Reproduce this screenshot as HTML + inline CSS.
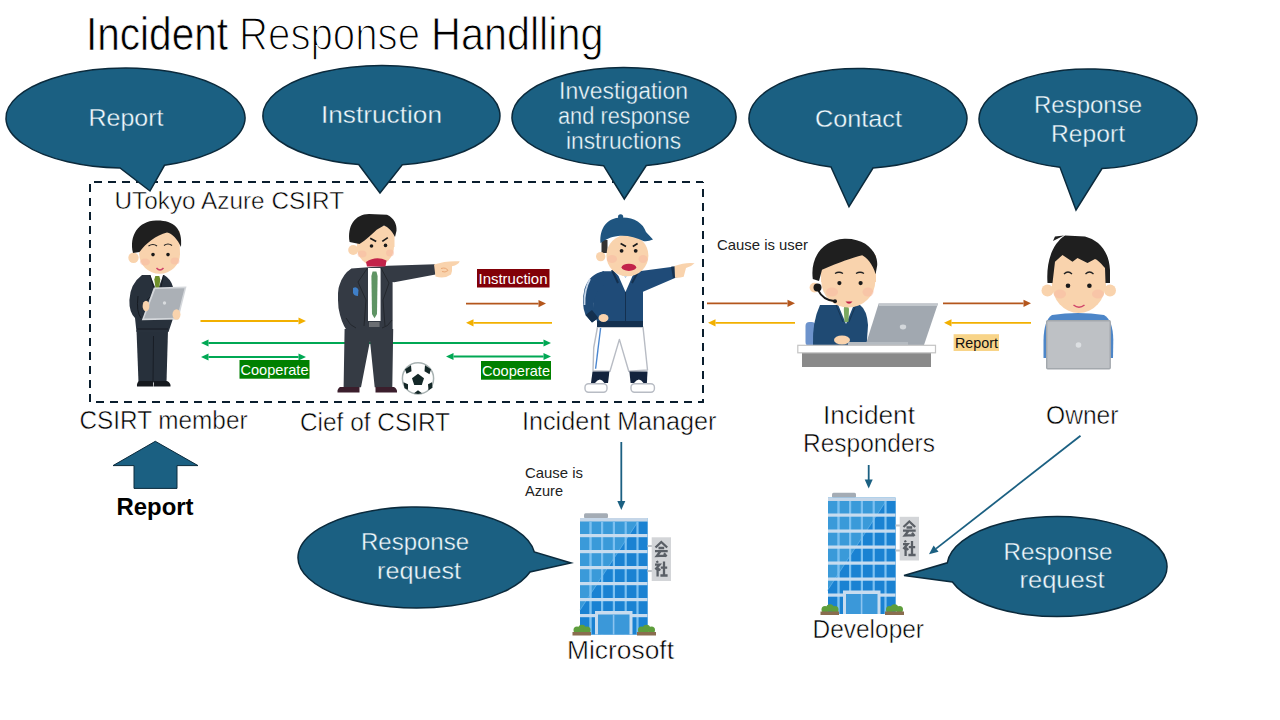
<!DOCTYPE html>
<html><head><meta charset="utf-8"><style>
html,body{margin:0;padding:0;background:#fff;width:1280px;height:720px;overflow:hidden}
svg{display:block}
text{font-family:"Liberation Sans", sans-serif}
</style></head><body>
<svg width="1280" height="720" viewBox="0 0 1280 720" font-family='"Liberation Sans", sans-serif'>
<rect width="1280" height="720" fill="#fff"/>
<text x="86" y="49.6" font-size="46.5" fill="#000" font-weight="normal" text-anchor="start" textLength="142" lengthAdjust="spacingAndGlyphs" stroke="#fff" stroke-width="0.7">Incident</text><text x="239" y="49.6" font-size="46.5" fill="#000" font-weight="normal" text-anchor="start" textLength="181" lengthAdjust="spacingAndGlyphs" stroke="#fff" stroke-width="1.5">Response</text><text x="431" y="49.6" font-size="46.5" fill="#000" font-weight="normal" text-anchor="start" textLength="172.5" lengthAdjust="spacingAndGlyphs" stroke="#fff" stroke-width="0.9">Handlling</text>
<g stroke="#0a1e2e" stroke-width="2" stroke-dasharray="8 6" fill="none"><line x1="90" y1="182" x2="703" y2="182" stroke-dashoffset="10"/><line x1="703" y1="182" x2="703" y2="402" stroke-dashoffset="7"/><line x1="90" y1="402" x2="704" y2="402" stroke-dashoffset="8"/><line x1="90" y1="182" x2="90" y2="402" stroke-dashoffset="12"/></g>
<path d="M164.50,165.26 A119.5,50 0 1 0 120.00,167.95 L150,191 Z" fill="#1b6082" stroke="#0b2a3c" stroke-width="1.5"/><path d="M402.30,164.72 A118.5,50 0 1 0 358.70,164.57 L380,193 Z" fill="#1b6082" stroke="#0b2a3c" stroke-width="1.5"/><path d="M646.30,165.51 A112,49.5 0 1 0 603.60,165.67 L624.3,199 Z" fill="#1b6082" stroke="#0b2a3c" stroke-width="1.5"/><path d="M873.00,168.02 A109,50 0 1 0 831.00,166.94 L849,206.7 Z" fill="#1b6082" stroke="#0b2a3c" stroke-width="1.5"/><path d="M1102.00,168.59 A109,50 0 1 0 1060.00,167.32 L1076,210 Z" fill="#1b6082" stroke="#0b2a3c" stroke-width="1.5"/><path d="M534.30,552.00 A118.5,50.5 0 1 0 530.01,572.00 L571,563 Z" fill="#1b6082" stroke="#0b2a3c" stroke-width="1.5"/><path d="M947.30,562.80 A110,50 0 1 1 952.42,582.00 L904,575.5 Z" fill="#1b6082" stroke="#0b2a3c" stroke-width="1.5"/>
<text x="88.5" y="126" font-size="24.6" fill="#eef8fc" font-weight="normal" text-anchor="start" textLength="75" lengthAdjust="spacingAndGlyphs"  stroke="#1b6082" stroke-width="0.35">Report</text><text x="321" y="123" font-size="24.6" fill="#eef8fc" font-weight="normal" text-anchor="start" textLength="121" lengthAdjust="spacingAndGlyphs"  stroke="#1b6082" stroke-width="0.35">Instruction</text><text x="559" y="99" font-size="23" fill="#eef8fc" font-weight="normal" text-anchor="start" textLength="129" lengthAdjust="spacingAndGlyphs"  stroke="#1b6082" stroke-width="0.35">Investigation</text><text x="558" y="124" font-size="23" fill="#eef8fc" font-weight="normal" text-anchor="start" textLength="132" lengthAdjust="spacingAndGlyphs"  stroke="#1b6082" stroke-width="0.35">and response</text><text x="566" y="149" font-size="23" fill="#eef8fc" font-weight="normal" text-anchor="start" textLength="115" lengthAdjust="spacingAndGlyphs"  stroke="#1b6082" stroke-width="0.35">instructions</text><text x="815" y="126.7" font-size="24.6" fill="#eef8fc" font-weight="normal" text-anchor="start" textLength="87" lengthAdjust="spacingAndGlyphs"  stroke="#1b6082" stroke-width="0.35">Contact</text><text x="1034" y="112.7" font-size="24.6" fill="#eef8fc" font-weight="normal" text-anchor="start" textLength="108" lengthAdjust="spacingAndGlyphs"  stroke="#1b6082" stroke-width="0.35">Response</text><text x="1051" y="141.8" font-size="24.6" fill="#eef8fc" font-weight="normal" text-anchor="start" textLength="74" lengthAdjust="spacingAndGlyphs"  stroke="#1b6082" stroke-width="0.35">Report</text><text x="361" y="550.4" font-size="24.6" fill="#eef8fc" font-weight="normal" text-anchor="start" textLength="108" lengthAdjust="spacingAndGlyphs"  stroke="#1b6082" stroke-width="0.35">Response</text><text x="377" y="578.5" font-size="24.6" fill="#eef8fc" font-weight="normal" text-anchor="start" textLength="84" lengthAdjust="spacingAndGlyphs"  stroke="#1b6082" stroke-width="0.35">request</text><text x="1003.5" y="559.8" font-size="24.6" fill="#eef8fc" font-weight="normal" text-anchor="start" textLength="109" lengthAdjust="spacingAndGlyphs"  stroke="#1b6082" stroke-width="0.35">Response</text><text x="1019.5" y="587.9" font-size="24.6" fill="#eef8fc" font-weight="normal" text-anchor="start" textLength="85" lengthAdjust="spacingAndGlyphs"  stroke="#1b6082" stroke-width="0.35">request</text>
<line x1="200.5" y1="321" x2="298.5" y2="321" stroke="#f2b000" stroke-width="1.8"/><path d="M306,321 L298.5,317.4 L298.5,324.6 Z" fill="#f2b000"/><line x1="208.5" y1="343" x2="543.5" y2="343" stroke="#00a854" stroke-width="1.8"/><path d="M551,343 L543.5,339.4 L543.5,346.6 Z" fill="#00a854"/><path d="M201,343 L208.5,339.4 L208.5,346.6 Z" fill="#00a854"/><line x1="208.5" y1="357" x2="298.5" y2="357" stroke="#00a854" stroke-width="1.8"/><path d="M306,357 L298.5,353.4 L298.5,360.6 Z" fill="#00a854"/><path d="M201,357 L208.5,353.4 L208.5,360.6 Z" fill="#00a854"/><line x1="466" y1="303.6" x2="538.5" y2="303.6" stroke="#b4561c" stroke-width="1.8"/><path d="M546,303.6 L538.5,300.0 L538.5,307.20000000000005 Z" fill="#b4561c"/><line x1="473.5" y1="322.8" x2="552" y2="322.8" stroke="#f2b000" stroke-width="1.8"/><path d="M466,322.8 L473.5,319.2 L473.5,326.40000000000003 Z" fill="#f2b000"/><line x1="453.5" y1="356.5" x2="543.5" y2="356.5" stroke="#00a854" stroke-width="1.8"/><path d="M551,356.5 L543.5,352.9 L543.5,360.1 Z" fill="#00a854"/><path d="M446,356.5 L453.5,352.9 L453.5,360.1 Z" fill="#00a854"/><line x1="707" y1="303.3" x2="787.5" y2="303.3" stroke="#b4561c" stroke-width="1.8"/><path d="M795,303.3 L787.5,299.7 L787.5,306.90000000000003 Z" fill="#b4561c"/><line x1="715.5" y1="322.8" x2="795" y2="322.8" stroke="#f2b000" stroke-width="1.8"/><path d="M708,322.8 L715.5,319.2 L715.5,326.40000000000003 Z" fill="#f2b000"/><line x1="943" y1="303.3" x2="1023.5" y2="303.3" stroke="#b4561c" stroke-width="1.8"/><path d="M1031,303.3 L1023.5,299.7 L1023.5,306.90000000000003 Z" fill="#b4561c"/><line x1="951.5" y1="322.8" x2="1031" y2="322.8" stroke="#f2b000" stroke-width="1.8"/><path d="M944,322.8 L951.5,319.2 L951.5,326.40000000000003 Z" fill="#f2b000"/>
<!-- P1 CSIRT member -->
<g>
 <path d="M136.5,330 L168,330 L166.5,382.5 L138.5,382.5 Z" fill="#27303b"/>
 <line x1="153.5" y1="336" x2="153" y2="382" stroke="#161b22" stroke-width="0.9"/>
 <path d="M139,381 L153,381 L153.5,386.5 L137,386.5 Q136.5,383 139,381 Z" fill="#15191e"/>
 <path d="M154,381 L167,381 Q171,383 170.5,386.5 L154,386.5 Z" fill="#15191e"/>
 <path d="M142,275 L164,275 Q171,279 173,287 L172.5,320 L168.5,332 L136.5,332 L135,318 Q129,312 129.4,300 Q130,284 142,275 Z" fill="#28313c"/>
 <path d="M138,296 Q136,312 141,318" stroke="#161b22" stroke-width="1" fill="none"/>
 <line x1="137" y1="329" x2="168" y2="329" stroke="#161b22" stroke-width="1"/>
 <path d="M150,274.5 L163.5,274.5 L157,292 Z" fill="#fff"/>
 <path d="M155.3,276 L159.3,276 L160.3,279.5 L158.7,291 L155.9,291 L154.3,279.5 Z" fill="#6f8f2a"/>
 <path d="M150,275 L155,292 L147,300" stroke="#161b22" stroke-width="0.9" fill="none"/>
 <path d="M163.5,275 L160,292" stroke="#161b22" stroke-width="0.9" fill="none"/>
 <path d="M153.8,287.4 L186.5,286.5 L178.3,319.4 L141.8,320.2 Z" fill="#d4d7db"/>
 <path d="M155.3,289 L184.5,288.3 L177,317.8 L144,318.5 Z" fill="#abb0b6"/>
 <circle cx="164.5" cy="303" r="1.7" fill="#d9dcdf"/>
 <ellipse cx="146" cy="306" rx="3.4" ry="5.2" fill="#f9d3ad"/>
 <ellipse cx="176.5" cy="314.5" rx="4" ry="5.2" fill="#f9d3ad"/>
 <circle cx="133.5" cy="257.7" r="5.2" fill="#f9d3ad"/>
 <ellipse cx="159.6" cy="254" rx="20.4" ry="19.8" fill="#f9d3ad"/><rect x="139.5" y="231" width="40.3" height="24" fill="#f9d3ad"/>
 <ellipse cx="145" cy="262" rx="5" ry="3.5" fill="#f7b9a3" opacity="0.55"/>
 <ellipse cx="175" cy="261" rx="4.5" ry="3.5" fill="#f7b9a3" opacity="0.55"/>
 <path d="M133,253 C129,236 138,221 156,220.5 C173,220 183,228 181,247 C178,240 172,233 167,232.5 C156,235.5 146,243 139.5,252 Z" fill="#1f1f1f"/>
 <path d="M148.5,246 Q153,243 157,246" stroke="#222" stroke-width="1.2" fill="none"/>
 <path d="M164,245.5 Q168,242.5 172,245.5" stroke="#222" stroke-width="1.2" fill="none"/>
 <circle cx="153" cy="254.6" r="1.8" fill="#1a1a1a"/>
 <circle cx="168" cy="254.6" r="1.8" fill="#1a1a1a"/>
 <path d="M156.5,268 Q160,272 163.5,268" stroke="#d0456a" stroke-width="1.5" fill="none"/>
</g>
<!-- P2 chief -->
<g>
 <path d="M344.6,329 L393.2,329 L392.3,387.3 L374.7,387.3 L370,341 L361,387.3 L343.6,387.3 Z" fill="#353b44"/>
 <path d="M340,387 L359.5,387 L359.5,392.5 L337.5,392.5 Q337,389 340,387 Z" fill="#3b1e2c"/>
 <path d="M375.5,387 L394,387 Q397.5,389 397,392.5 L375.5,392.5 Z" fill="#3b1e2c"/>
 <path d="M351.4,268.6 L388.4,265.7 L435,264.2 L435.5,274.5 L394.2,282.2 L392.6,282 L392.6,330 L346.5,330 Q341,322 338.5,308 Q337,290 339.5,285 Q343,274 351.4,268.6 Z" fill="#343a44"/>
 <rect x="368" y="268" width="12.6" height="53" fill="#fff"/>
 <path d="M372.6,271.5 L376.4,271.5 L377.6,276 L377,314 L374.5,318.3 L372,314 L371.4,276 Z" fill="#5f9464"/>
 <rect x="369" y="322" width="10.6" height="5" fill="#6b6e73"/>
 <path d="M367.5,268 L358,282 L366,300 L364,326 M381,268 L389,283 L383,300 L385,326" stroke="#23272d" stroke-width="1" fill="none"/>
 <path d="M346,318 Q350,326 356,328 M392,320 Q388,327 382,328" stroke="#23272d" stroke-width="1" fill="none"/>
 <path d="M353,288 Q357,286 358.5,290 L358,296 Q354,296 353,293 Z" fill="#3f7fc8"/>
 <path d="M434,264.5 Q446,260.5 459.7,261.3 Q458.5,265 452,266.3 Q452.5,271 451,274.5 Q445,279 435.5,276.5 Z" fill="#f9d3ad"/><path d="M441,268.5 Q446,267 448,270.5 Q445,273 442,271.5" stroke="#eaa877" stroke-width="1" fill="none"/>
 <circle cx="353.2" cy="250" r="5" fill="#f9d3ad"/>
 <ellipse cx="375.4" cy="246.5" rx="18.6" ry="19.5" fill="#f9d3ad"/><rect x="357" y="226" width="37.5" height="21" fill="#f9d3ad"/>
 <ellipse cx="362" cy="254" rx="4.5" ry="3.5" fill="#f7b9a3" opacity="0.55"/>
 <ellipse cx="390" cy="253" rx="4" ry="3.5" fill="#f7b9a3" opacity="0.55"/>
 <path d="M349.6,242 C347,226 355,214 369,214 L387,214.7 C394,218 397,224 396.5,230.8 L395,237 C392,231 388,227 384,225.6 L376.7,229.8 C372,234 366,240 359.5,244 Z" fill="#1f1f1f"/>
 <line x1="370.2" y1="238.2" x2="376.2" y2="241.4" stroke="#1a1a1a" stroke-width="1.7"/>
 <line x1="382.3" y1="241.4" x2="387.8" y2="237.6" stroke="#1a1a1a" stroke-width="1.7"/>
 <circle cx="371.5" cy="246" r="1.8" fill="#1a1a1a"/>
 <circle cx="385.5" cy="245.4" r="1.8" fill="#1a1a1a"/>
 <path d="M366,262 Q376,255.5 386.5,260.5 L385.5,266.5 L367,266.5 Z" fill="#c2234a"/>
 <g transform="translate(0.5,1.8)"><circle cx="417.5" cy="376.6" r="15.6" fill="#fff" stroke="#a8b2b2" stroke-width="1.5"/>
 <path d="M417.5,372 L423.5,376.5 L421.3,383.3 L413.7,383.3 L411.5,376.5 Z" fill="#142828"/>
 <path d="M404.5,367.5 L410.5,363.5 L411,369.5 L406,372 Z M424.5,363.5 L430.5,367.5 L429,372.5 L424,369.5 Z M403,380.5 L407.5,382.5 L407.5,388 L404,386.5 Z M431.5,380.5 L432,386 L428,388.5 L427.5,382.5 Z M413.5,391.5 L417.5,388.5 L421.5,391.5 L417.5,392.3 Z" fill="#142828"/>
</g>
</g>
<!-- P3 manager -->
<g>
 <path d="M597.5,327 L643,327 L647.5,370 L628.75,371.25 L619.4,339.4 L610,371.25 L593,370.6 L593.75,347.5 Z" fill="#fff" stroke="#b8bcc4" stroke-width="1.4" stroke-linejoin="round"/>
 <path d="M600.6,328 L595.6,368.75" stroke="#4a86d0" stroke-width="1.4"/>
 <path d="M592.5,371.5 L609.4,371.5 L608,383 L591,383 Z" fill="#13233d"/>
 <path d="M629.4,371.5 L647.5,371.5 L646.9,383 L630.6,383 Z" fill="#13233d"/>
 <path d="M595,383 Q600,376 604.5,383 Z M634,383 Q639,376 643.5,383 Z" fill="#fff"/>
 <rect x="585" y="383.75" width="22" height="8.5" rx="3.5" fill="#fff" stroke="#b8bcc4" stroke-width="1.4"/>
 <rect x="631" y="383.75" width="23.4" height="8.5" rx="3.5" fill="#fff" stroke="#b8bcc4" stroke-width="1.4"/>
 <path d="M602.5,271.3 L639,271.3 L673,266.8 L675,278 L643,291.7 L643,321.4 L597,321.4 L594,310 L594,295 Z" fill="#1f4b78"/>
 <path d="M604,271.3 Q589,274 584.5,289 Q581,304 585.5,315 L592,322.5 L601,316 L594,308 Q593,298 598,291 L604,285 Z" fill="#1f4b78"/>
 <path d="M585.5,315 L592,322.5 L598.5,318 L592,310 Z" fill="#14304f"/>
 <path d="M590,279 Q584,290 584.5,305" stroke="#c5d5e8" stroke-width="1.8" fill="none"/>
 <rect x="597" y="321" width="46" height="6" fill="#14304f"/>
 <path d="M671,266.8 L676.5,266 L678,277 L673,278 Z" fill="#14304f"/>
 <path d="M614,271 L637,271 L632.5,276 L625.5,292 L618.5,276 Z" fill="#fff"/>
 <path d="M613,270 L620,270 L625.5,278 L631,270 L638,270 L632,274 L625.5,276.5 L619,274 Z" fill="#8fb6e0"/>
 <path d="M612,270 L618,283 M639,270 L632,283" stroke="#14304f" stroke-width="2" fill="none"/>
 <line x1="625.5" y1="292" x2="625.5" y2="321" stroke="#14304f" stroke-width="1"/>
 <ellipse cx="603.5" cy="318" rx="5" ry="4" fill="#f9d3ad"/>
 <path d="M674.5,266 Q686,262 694.6,263.3 Q691,267 686,268 L683.7,276.8 Q678,278.5 675,277.5 Z" fill="#f9d3ad"/>
 <rect x="601.5" y="240" width="6" height="13" fill="#333"/>
 <circle cx="600.7" cy="256.6" r="4.7" fill="#f9d3ad"/>
 <ellipse cx="627.4" cy="255.5" rx="21" ry="20.8" fill="#f9d3ad"/>
 <ellipse cx="612" cy="259" rx="5" ry="4" fill="#f7b9a3" opacity="0.55"/>
 <ellipse cx="643" cy="259" rx="4.5" ry="4" fill="#f7b9a3" opacity="0.55"/>
 <path d="M600.5,243 C599.5,228 607,218 621,217.5 C634,217 643,223 646,232 L653,239.5 Q648,241.8 644,241.2 C636,237 626,235 618,236 C610,237 605,240 600.5,243 Z" fill="#1f5580"/>
 <circle cx="620.6" cy="216.8" r="2.6" fill="#1f5580"/>
 <line x1="620.6" y1="243.5" x2="626" y2="246.4" stroke="#1a1a1a" stroke-width="1.7"/>
 <line x1="632.8" y1="246.4" x2="637.6" y2="243.5" stroke="#1a1a1a" stroke-width="1.7"/>
 <circle cx="621.6" cy="250.8" r="1.9" fill="#1a1a1a"/>
 <circle cx="635.7" cy="250.8" r="1.9" fill="#1a1a1a"/>
 <ellipse cx="628.9" cy="267.3" rx="7.3" ry="3.6" fill="#c2234a"/>
</g>
<!-- P4 responder -->
<g>
 <rect x="805.5" y="322" width="10" height="24" rx="4" fill="#6d93cc"/>
 <path d="M820,305 L860,305 Q867,310 868,325 L866.6,346 L813,346 Q812,322 820,305 Z" fill="#1f4a73"/>
 <path d="M838,304.5 L854,304.5 L846,324 Z" fill="#fff"/>
 <path d="M844.3,306 L848,306 L849,309 L848.5,322 L844.5,322 L843.8,309 Z" fill="#7aa860"/>
 <path d="M836,305 L843,322 M856,305 L849,322" stroke="#163656" stroke-width="1" fill="none"/>
 <ellipse cx="842" cy="340" rx="8" ry="4.5" fill="#f9d3ad"/>
 <path d="M878.7,303.6 L938,303.6 L924,345 L865.6,345 Z" fill="#a1a8b0"/>
 <path d="M878.7,303.6 L938,303.6 L937,306 L879,306 Z" fill="#c3c8cd"/>
 <ellipse cx="903" cy="327" rx="3.2" ry="2.4" fill="#d3d7db"/>
 <rect x="848" y="342" width="60" height="4" fill="#b5bbc1"/>
 <rect x="802" y="352.5" width="129" height="14.5" fill="#8a8a8a"/>
 <rect x="797.8" y="345.3" width="137.7" height="7.5" fill="#fff" stroke="#c4c4c4" stroke-width="1.2"/>
 <circle cx="814.4" cy="287.6" r="4.8" fill="#f9d3ad"/>
 <ellipse cx="848.3" cy="281" rx="27" ry="26.6" fill="#f9d3ad"/><rect x="821" y="255" width="55" height="27" fill="#f9d3ad"/>
 <ellipse cx="832" cy="292" rx="6" ry="4.5" fill="#f7b9a3" opacity="0.55"/>
 <ellipse cx="868" cy="292" rx="5.5" ry="4.5" fill="#f7b9a3" opacity="0.55"/>
 <path d="M812.8,279 C810,258 822,240 844.4,238.7 C866,238 878,252 877.2,265.3 L875.6,274.2 C873,264 866,257 862.2,255.3 C852,258 840,262 822,269.8 L819,281 Z" fill="#1f1f1f"/>
 <circle cx="817.5" cy="287.6" r="4" fill="#1a1a1a"/>
 <path d="M818,290 Q823,300 834,301" stroke="#1a1a1a" stroke-width="1.8" fill="none"/>
 <circle cx="835" cy="301.3" r="2" fill="#1a1a1a"/>
 <path d="M835,273.5 Q839,271 843,273.5 M856,273.5 Q860,271 864,273.5" stroke="#222" stroke-width="1.3" fill="none"/>
 <circle cx="839.4" cy="283.1" r="2.1" fill="#1a1a1a"/>
 <circle cx="860.6" cy="283.1" r="2.1" fill="#1a1a1a"/>
 <path d="M845.5,301.5 L852.5,301.5 Q849,306 845.5,301.5 Z" fill="#c2234a"/>
</g>
<!-- P5 owner -->
<g>
 <path d="M1052,315 Q1078,311 1104,315 Q1113,320 1113.3,340 L1113,358 L1043.5,358 L1043.5,340 Q1044,320 1052,315 Z" fill="#4d86c8"/>
 <rect x="1046.7" y="320.8" width="63.5" height="48" rx="1" fill="#bec1c5" stroke="#a3a8ad" stroke-width="1.4"/>
 <circle cx="1078.5" cy="345" r="2.8" fill="#dcdfe2"/>
 <circle cx="1047.5" cy="290.5" r="6" fill="#f9d3ad"/>
 <circle cx="1110" cy="290.5" r="6" fill="#f9d3ad"/>
 <ellipse cx="1078.75" cy="283" rx="27" ry="30" fill="#f9d3ad"/><rect x="1052" y="255" width="54" height="35" fill="#f9d3ad"/>
 <ellipse cx="1060" cy="294" rx="6" ry="4.5" fill="#f7b9a3" opacity="0.55"/>
 <ellipse cx="1098" cy="294" rx="6" ry="4.5" fill="#f7b9a3" opacity="0.55"/>
 <path d="M1047.5,283 C1046,262 1052,244 1065,235.5 L1085,236.5 C1098,240 1109,250 1110,270 L1110,283 L1105.5,283 L1105,268 C1100,262 1096,259 1095,259 L1087.5,263 L1077.5,258 L1072.5,261.75 L1062.5,255 L1055,261.75 L1052.5,283 Z" fill="#1f1f1f"/>
 <path d="M1064,274 Q1068,270 1072,274 M1085.5,274 Q1089.5,270 1093.5,274" stroke="#222" stroke-width="1.3" fill="none"/>
 <circle cx="1068" cy="285.75" r="2.3" fill="#1a1a1a"/>
 <circle cx="1089.4" cy="285.75" r="2.3" fill="#1a1a1a"/>
 <path d="M1053,241 L1055,236.5 L1064,235.5 Z" fill="#1f1f1f"/>
 <path d="M1073.5,305 Q1079,309.5 1084.5,305" stroke="#d0456a" stroke-width="1.5" fill="none"/>
</g>

<g transform="translate(580,518)"><g>
 <rect x="4" y="-4.8" width="24" height="5" rx="1.5" fill="#a4acb5"/>
 <rect x="0" y="0" width="67.5" height="116.5" fill="#3a9ad9"/>
 <path d="M58.3,3.5 L67.5,3.5 L67.5,116.5 L0,116.5 L0,92.8 Z" fill="#1a82d2"/>
 <path d="M0,92 L58,3.5" stroke="#6ab8f2" stroke-width="1" opacity="0.6"/>
 <rect x="0" y="0" width="67.5" height="3.5" fill="#c5d6e8"/>
 <g fill="#7cc0f0">
  <rect x="9.3" y="3.5" width="2.4" height="113"/>
  <rect x="21" y="3.5" width="2.2" height="113"/>
  <rect x="32.8" y="3.5" width="2.2" height="113"/>
  <rect x="44.6" y="3.5" width="2.2" height="113"/>
  <rect x="56.4" y="3.5" width="2.2" height="113"/>
 </g>
 <g fill="#c7dcef">
  <rect x="0" y="16" width="67.5" height="3.2"/>
  <rect x="0" y="32" width="67.5" height="3.2"/>
  <rect x="0" y="48" width="67.5" height="3.2"/>
  <rect x="0" y="64" width="67.5" height="3.2"/>
  <rect x="0" y="80" width="67.5" height="3.2"/>
  <rect x="0" y="96" width="67.5" height="3.2"/>
 </g>
 <rect x="15" y="93" width="37.5" height="23.5" fill="#c8dcef"/>
 <rect x="18" y="96.5" width="31.5" height="20" fill="#3b98d9"/>
 <rect x="32.8" y="96.5" width="1.6" height="20" fill="#8cc4ef"/>
 <rect x="67.5" y="27" width="5" height="2" fill="#c0c4c8"/>
 <rect x="67.5" y="52" width="5" height="2" fill="#c0c4c8"/>
 <rect x="71.7" y="19.3" width="19.3" height="43.7" fill="#d3d5d8"/>
 <g stroke="#5a5f66" stroke-width="2.3" fill="none" stroke-linejoin="miter">
  <path d="M75.5,29.5 L81.3,24 L87.2,29.5 M78.5,30 L84.2,30 M75,33.2 L87.7,33.2 M80.3,33.5 L76.8,38 L86,37.6 M84,35.3 L86.6,38.4"/>
  <path d="M76.8,43 L77.8,44.8 M75,46.6 L79.6,46.6 L75.4,51.5 M77.6,48.5 L77.6,58.5 M78.2,50.5 L80.2,52.5 M84,43.5 L84,57.5 M80.8,49.6 L87.2,49.6 M80.4,57.5 L87.6,57.5"/>
 </g>
 <g fill="#5e9e3c"><circle cx="-3" cy="112" r="3.5"/><circle cx="2" cy="110.5" r="3.8"/><circle cx="7" cy="112" r="3.5"/></g>
 <rect x="-7.5" y="114" width="18.5" height="3.5" fill="#8a6d4f"/>
 <g fill="#5e9e3c"><circle cx="61.5" cy="112" r="3.5"/><circle cx="66.5" cy="110.5" r="3.8"/><circle cx="71.5" cy="112" r="3.5"/></g>
 <rect x="57" y="114" width="19" height="3.5" fill="#8a6d4f"/>
</g>
</g>
<g transform="translate(828,497.5)"><g>
 <rect x="4" y="-4.8" width="24" height="5" rx="1.5" fill="#a4acb5"/>
 <rect x="0" y="0" width="67.5" height="116.5" fill="#3a9ad9"/>
 <path d="M58.3,3.5 L67.5,3.5 L67.5,116.5 L0,116.5 L0,92.8 Z" fill="#1a82d2"/>
 <path d="M0,92 L58,3.5" stroke="#6ab8f2" stroke-width="1" opacity="0.6"/>
 <rect x="0" y="0" width="67.5" height="3.5" fill="#c5d6e8"/>
 <g fill="#7cc0f0">
  <rect x="9.3" y="3.5" width="2.4" height="113"/>
  <rect x="21" y="3.5" width="2.2" height="113"/>
  <rect x="32.8" y="3.5" width="2.2" height="113"/>
  <rect x="44.6" y="3.5" width="2.2" height="113"/>
  <rect x="56.4" y="3.5" width="2.2" height="113"/>
 </g>
 <g fill="#c7dcef">
  <rect x="0" y="16" width="67.5" height="3.2"/>
  <rect x="0" y="32" width="67.5" height="3.2"/>
  <rect x="0" y="48" width="67.5" height="3.2"/>
  <rect x="0" y="64" width="67.5" height="3.2"/>
  <rect x="0" y="80" width="67.5" height="3.2"/>
  <rect x="0" y="96" width="67.5" height="3.2"/>
 </g>
 <rect x="15" y="93" width="37.5" height="23.5" fill="#c8dcef"/>
 <rect x="18" y="96.5" width="31.5" height="20" fill="#3b98d9"/>
 <rect x="32.8" y="96.5" width="1.6" height="20" fill="#8cc4ef"/>
 <rect x="67.5" y="27" width="5" height="2" fill="#c0c4c8"/>
 <rect x="67.5" y="52" width="5" height="2" fill="#c0c4c8"/>
 <rect x="71.7" y="19.3" width="19.3" height="43.7" fill="#d3d5d8"/>
 <g stroke="#5a5f66" stroke-width="2.3" fill="none" stroke-linejoin="miter">
  <path d="M75.5,29.5 L81.3,24 L87.2,29.5 M78.5,30 L84.2,30 M75,33.2 L87.7,33.2 M80.3,33.5 L76.8,38 L86,37.6 M84,35.3 L86.6,38.4"/>
  <path d="M76.8,43 L77.8,44.8 M75,46.6 L79.6,46.6 L75.4,51.5 M77.6,48.5 L77.6,58.5 M78.2,50.5 L80.2,52.5 M84,43.5 L84,57.5 M80.8,49.6 L87.2,49.6 M80.4,57.5 L87.6,57.5"/>
 </g>
 <g fill="#5e9e3c"><circle cx="-3" cy="112" r="3.5"/><circle cx="2" cy="110.5" r="3.8"/><circle cx="7" cy="112" r="3.5"/></g>
 <rect x="-7.5" y="114" width="18.5" height="3.5" fill="#8a6d4f"/>
 <g fill="#5e9e3c"><circle cx="61.5" cy="112" r="3.5"/><circle cx="66.5" cy="110.5" r="3.8"/><circle cx="71.5" cy="112" r="3.5"/></g>
 <rect x="57" y="114" width="19" height="3.5" fill="#8a6d4f"/>
</g>
</g>
<rect x="477" y="269" width="72.5" height="18.5" fill="#820008"/><text x="478.5" y="284" font-size="15" fill="#fff" font-weight="normal" text-anchor="start" textLength="69" lengthAdjust="spacingAndGlyphs" >Instruction</text><rect x="239.5" y="360" width="70" height="18.7" fill="#008000"/><text x="240.5" y="375" font-size="15" fill="#fff" font-weight="normal" text-anchor="start" textLength="68" lengthAdjust="spacingAndGlyphs" >Cooperate</text><rect x="481" y="361" width="70" height="18.7" fill="#008000"/><text x="482" y="376" font-size="15" fill="#fff" font-weight="normal" text-anchor="start" textLength="68" lengthAdjust="spacingAndGlyphs" >Cooperate</text><rect x="953.6" y="334.2" width="45.4" height="16.8" fill="#f8d488"/><text x="955" y="348" font-size="14.5" fill="#111" font-weight="normal" text-anchor="start" textLength="43" lengthAdjust="spacingAndGlyphs" >Report</text><path d="M155.3,441.3 L198,465.6 L177,465.6 L177,488.4 L134,488.4 L134,465.6 L113,465.6 Z" fill="#1b6082" stroke="#0b2a3c" stroke-width="1"/><line x1="621.3" y1="442" x2="621.3" y2="502" stroke="#1b6082" stroke-width="1.8"/><path d="M621.3,510 L617.3,501 L625.3,501 Z" fill="#1b6082"/><line x1="868.7" y1="465" x2="868.7" y2="480.5" stroke="#1b6082" stroke-width="1.8"/><path d="M868.7,488.5 L864.7,479.5 L872.7,479.5 Z" fill="#1b6082"/><line x1="1080.5" y1="435.8" x2="936.09" y2="548.66" stroke="#1b6082" stroke-width="1.8"/><path d="M929,554.2 L933.63,545.51 L938.55,551.81 Z" fill="#1b6082"/>
<text x="114.5" y="208.5" font-size="24.6" fill="#000" font-weight="normal" text-anchor="start" textLength="229.5" lengthAdjust="spacingAndGlyphs"  stroke="#fff" stroke-width="0.5">UTokyo Azure CSIRT</text><text x="79.5" y="429" font-size="25" fill="#000" font-weight="normal" text-anchor="start" textLength="168" lengthAdjust="spacingAndGlyphs"  stroke="#fff" stroke-width="0.5">CSIRT member</text><text x="300" y="430.6" font-size="25" fill="#000" font-weight="normal" text-anchor="start" textLength="150" lengthAdjust="spacingAndGlyphs"  stroke="#fff" stroke-width="0.5">Cief of CSIRT</text><text x="522" y="430.3" font-size="25" fill="#000" font-weight="normal" text-anchor="start" textLength="194.5" lengthAdjust="spacingAndGlyphs"  stroke="#fff" stroke-width="0.5">Incident Manager</text><text x="823" y="423.6" font-size="25" fill="#000" font-weight="normal" text-anchor="start" textLength="92" lengthAdjust="spacingAndGlyphs"  stroke="#fff" stroke-width="0.5">Incident</text><text x="803" y="452.4" font-size="25" fill="#000" font-weight="normal" text-anchor="start" textLength="132" lengthAdjust="spacingAndGlyphs"  stroke="#fff" stroke-width="0.5">Responders</text><text x="1046" y="423.6" font-size="25" fill="#000" font-weight="normal" text-anchor="start" textLength="72.5" lengthAdjust="spacingAndGlyphs"  stroke="#fff" stroke-width="0.5">Owner</text><text x="567" y="658.5" font-size="25" fill="#000" font-weight="normal" text-anchor="start" textLength="107" lengthAdjust="spacingAndGlyphs"  stroke="#fff" stroke-width="0.5">Microsoft</text><text x="812.5" y="638.3" font-size="25" fill="#000" font-weight="normal" text-anchor="start" textLength="111.5" lengthAdjust="spacingAndGlyphs"  stroke="#fff" stroke-width="0.5">Developer</text><text x="116.5" y="514.9" font-size="23" fill="#000" font-weight="bold" text-anchor="start" textLength="77" lengthAdjust="spacingAndGlyphs" >Report</text><text x="717" y="250" font-size="14.5" fill="#222" font-weight="normal" text-anchor="start" textLength="91" lengthAdjust="spacingAndGlyphs" >Cause is user</text><text x="525" y="477.7" font-size="14.5" fill="#222" font-weight="normal" text-anchor="start" textLength="58" lengthAdjust="spacingAndGlyphs" >Cause is</text><text x="525" y="496" font-size="14.5" fill="#222" font-weight="normal" text-anchor="start" textLength="38" lengthAdjust="spacingAndGlyphs" >Azure</text>
</svg>
</body></html>
